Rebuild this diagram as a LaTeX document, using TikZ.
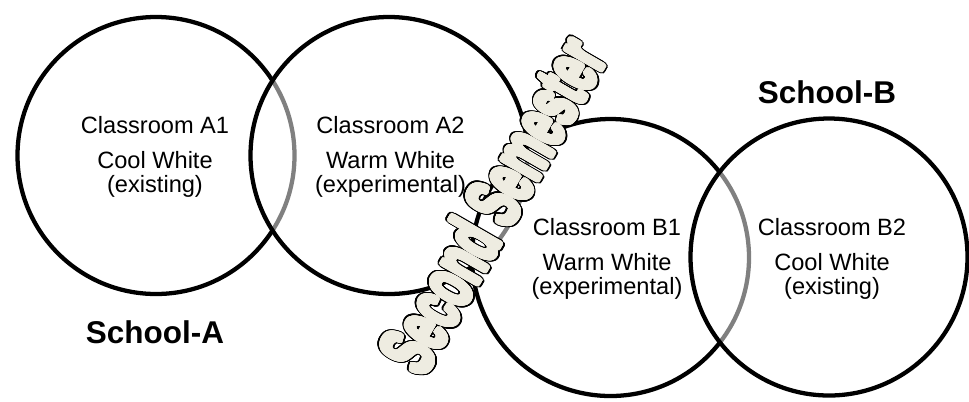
\documentclass[tikz,border=0pt]{standalone}
\usepackage{fontspec}
\setmainfont{Liberation Sans}
\usepackage{contour}
\contournumber{48}
\definecolor{wordart}{HTML}{EEECE1}
\newcommand{\wordarttext}[1]{%
  \rlap{\contourlength{3.6pt}\contour{black}{\textcolor{black}{#1}}}%
  \contourlength{2.2pt}\contour{wordart}{\textcolor{wordart}{#1}}}
\begin{document}
\begin{tikzpicture}[x=0.75pt,y=-0.75pt,
  room/.style={circle, draw=black, line width=3.2pt, fill=white, fill opacity=0.5,
    minimum size=207.75pt, inner sep=0pt},
  lbl/.style={anchor=base, inner sep=0pt, font=\fontsize{17.7}{20}\selectfont},
  school/.style={anchor=base, inner sep=0pt, font=\bfseries\fontsize{23.6}{28}\selectfont},
  wart/.style={rotate=60, xscale=0.58, transform shape, inner sep=0pt,
    font=\bfseries\fontsize{57}{64}\selectfont}]
\useasboundingbox (0,0) rectangle (969,401);
\node[room] (A1) at (156,155.5) {};
\node[room] (A2) at (389,155.5) {};
\node[room] (B1) at (610.5,257.5) {};
\node[room] (B2) at (829,257) {};
% texts
\node[lbl] (a1a) at (155,133) {Classroom A1};
\node[lbl] (a1b) at (155,168) {Cool White};
\node[lbl] (a1c) at (155,192) {(existing)};
\node[lbl] (a2a) at (390.5,133) {Classroom A2};
\node[lbl] (a2b) at (390.5,168) {Warm White};
\node[lbl] (a2c) at (390.5,192) {(experimental)};
\node[lbl] (b1a) at (607,235) {Classroom B1};
\node[lbl] (b1b) at (607,270) {Warm White};
\node[lbl] (b1c) at (607,294) {(experimental)};
\node[lbl] (b2a) at (832,235) {Classroom B2};
\node[lbl] (b2b) at (832,270) {Cool White};
\node[lbl] (b2c) at (832,294) {(existing)};
\node[school] (sa) at (155,343) {School-A};
\node[school] (sb) at (827,103) {School-B};
\node[wart] (sem) at (494,206) {\wordarttext{Second Semester}};
\end{tikzpicture}
\end{document}
